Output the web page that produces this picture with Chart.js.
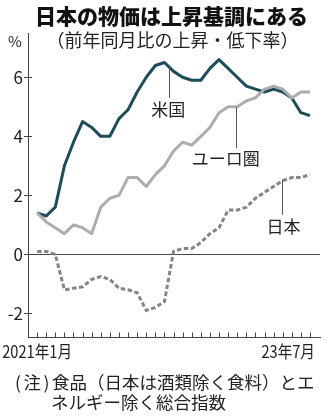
<!DOCTYPE html>
<html lang="ja">
<head>
<meta charset="utf-8">
<script src="https://cdn.jsdelivr.net/npm/chart.js@4"></script>
<style>
  html, body { margin: 0; padding: 0; background: #fff; }
  #wrap { position: relative; width: 330px; height: 417px; overflow: hidden; font-family: 'Noto Sans CJK JP', sans-serif; color: #222; }
  #chartBox { position: absolute; left: 0; top: 0; width: 330px; height: 417px; }
  .t { position: absolute; line-height: 1; white-space: nowrap; }
  #title { left: 0; width: 343px; text-align: center; top: 4.5px; font-size: 21px; font-weight: 900; color: #111; }
  #sub { left: 0; width: 345px; text-align: center; top: 30px; font-size: 18px; }
  #pct { left: 8px; top: 32.5px; font-size: 15px; }
  #note1 { left: 15px; top: 373px; font-size: 17.5px; }
  #note1 .p { display: inline-block; width: 37px; text-align: left; letter-spacing: 2.5px; }
  #note2 { left: 51px; top: 393px; font-size: 17.5px; }
</style>
</head>
<body>
<div id="wrap">
  <div id="chartBox"><canvas id="c"></canvas></div>
  <div class="t" id="title">日本の物価は上昇基調にある</div>
  <div class="t" id="sub">（前年同月比の上昇・低下率）</div>
  <div class="t" id="pct">%</div>
  <div class="t" id="note1"><span class="p">(注)</span>食品（日本は酒類除く食料）とエ</div>
  <div class="t" id="note2">ネルギー除く総合指数</div>
</div>
<script>
// ---- data ----
const months = ['2021-01','2021-02','2021-03','2021-04','2021-05','2021-06','2021-07','2021-08','2021-09','2021-10','2021-11','2021-12',
                '2022-01','2022-02','2022-03','2022-04','2022-05','2022-06','2022-07','2022-08','2022-09','2022-10','2022-11','2022-12',
                '2023-01','2023-02','2023-03','2023-04','2023-05','2023-06','2023-07'];
const usValues    = [1.4,1.3,1.6,3.0,3.8,4.5,4.3,4.0,4.0,4.6,4.9,5.5,6.0,6.4,6.5,6.2,6.0,5.9,5.9,6.3,6.6,6.3,6.0,5.7,5.6,5.5,5.6,5.5,5.3,4.8,4.7];
const euroValues  = [1.4,1.1,0.9,0.7,1.0,0.9,0.7,1.6,1.9,2.0,2.6,2.6,2.3,2.7,3.0,3.5,3.8,3.7,4.0,4.3,4.8,5.0,5.0,5.2,5.3,5.6,5.7,5.6,5.3,5.5,5.5];
const japanValues = [0.1,0.1,0.0,-1.2,-1.15,-1.1,-0.85,-0.75,-0.85,-1.15,-1.2,-1.3,-1.9,-1.8,-1.6,0.1,0.2,0.2,0.4,0.7,0.9,1.5,1.5,1.6,1.9,2.1,2.3,2.5,2.6,2.6,2.7];
const seriesNames = ['米国','ユーロ圏','日本'];
const yTicks = [-2,0,2,4,6];
const xTickLabels = ['2021年1月','23年7月'];

// ---- chart ----
Chart.defaults.font.family = "'Noto Sans CJK JP', sans-serif";
const toPts = arr => arr.map((v,i) => ({x:i, y:v}));

const annotations = [
  {text: seriesNames[0], lx: 14.5, top: 6.32, bottom: 5.3, tx: 14.42, ty: 4.89},
  {text: seriesNames[1], lx: 21.87, top: 4.98, bottom: 3.6, tx: 20.75, ty: 3.26},
  {text: seriesNames[2], lx: 26.95, top: 2.52, bottom: 1.34, tx: 27.1, ty: 0.94}
];

const decor = {
  id: 'decor',
  afterDatasetsDraw(chart) {
    const {ctx, chartArea: ca, scales: {x, y}} = chart;
    ctx.save();
    ctx.strokeStyle = '#444';
    ctx.lineWidth = 1;
    // x tick marks pointing up
    months.forEach((m, i) => {
      const px = Math.round(x.getPixelForValue(i)) + 0.5;
      ctx.beginPath(); ctx.moveTo(px, ca.bottom); ctx.lineTo(px, ca.bottom - 4.5); ctx.stroke();
    });
    // y tick marks inside
    yTicks.forEach(v => {
      const py = Math.round(y.getPixelForValue(v)) + 0.5;
      ctx.beginPath(); ctx.moveTo(ca.left, py); ctx.lineTo(ca.left + 4, py); ctx.stroke();
    });
    // leader lines + labels
    ctx.strokeStyle = '#555';
    ctx.fillStyle = '#222';
    ctx.font = "17px 'Noto Sans CJK JP', sans-serif";
    ctx.textAlign = 'center';
    ctx.textBaseline = 'middle';
    annotations.forEach(a => {
      const px = Math.round(x.getPixelForValue(a.lx)) + 0.5;
      ctx.beginPath(); ctx.moveTo(px, y.getPixelForValue(a.top)); ctx.lineTo(px, y.getPixelForValue(a.bottom)); ctx.stroke();
      ctx.fillText(a.text, x.getPixelForValue(a.tx), y.getPixelForValue(a.ty));
    });
    // x labels
    ctx.font = "17px 'Noto Sans CJK JP', sans-serif";
    const ly = ca.bottom + 15;
    ctx.save();
    ctx.translate(x.getPixelForValue(0), ly);
    ctx.scale(0.86, 1);
    ctx.textAlign = 'center';
    ctx.fillText(xTickLabels[0], 0, 0);
    ctx.restore();
    ctx.save();
    ctx.translate(x.getPixelForValue(months.length - 1) + 5, ly);
    ctx.scale(0.86, 1);
    ctx.textAlign = 'right';
    ctx.fillText(xTickLabels[1], 0, 0);
    ctx.restore();
    ctx.restore();
  }
};

new Chart(document.getElementById('c'), {
  type: 'line',
  data: {
    datasets: [
      {label: seriesNames[2], data: toPts(japanValues), borderColor: '#858585', borderWidth: 3, borderDash: [4.5, 2.5], pointRadius: 0, tension: 0, fill: false},
      {label: seriesNames[1], data: toPts(euroValues), borderColor: '#adadad', borderWidth: 3, pointRadius: 0, tension: 0, borderJoinStyle: 'round', fill: false},
      {label: seriesNames[0], data: toPts(usValues), borderColor: '#1e4d59', borderWidth: 3, pointRadius: 0, tension: 0, borderJoinStyle: 'round', fill: false}
    ]
  },
  options: {
    responsive: true,
    maintainAspectRatio: false,
    animation: false,
    devicePixelRatio: 1,
    layout: {padding: {left: 0, right: 10, top: 33, bottom: 80}},
    plugins: {legend: {display: false}, tooltip: {enabled: false}},
    scales: {
      x: {
        type: 'linear', min: -1, max: 31.1,
        afterFit: s => { s.height = 0; },
        ticks: {display: false},
        grid: {display: false},
        border: {display: true, color: '#444', width: 1}
      },
      y: {
        type: 'linear', min: -2.8, max: 7.5,
        afterBuildTicks: s => { s.ticks = yTicks.map(v => ({value: v})); },
        afterFit: s => { s.width = 28; },
        ticks: {color: '#222', font: {size: 17}, padding: 1},
        grid: {
          drawOnChartArea: true,
          color: c => (c.tick && c.tick.value === 0) ? '#444' : 'rgba(0,0,0,0)',
          tickColor: '#444',
          tickLength: 4,
          lineWidth: 1
        },
        border: {display: true, color: '#444', width: 1}
      }
    }
  },
  plugins: [decor]
});
</script>
</body>
</html>
